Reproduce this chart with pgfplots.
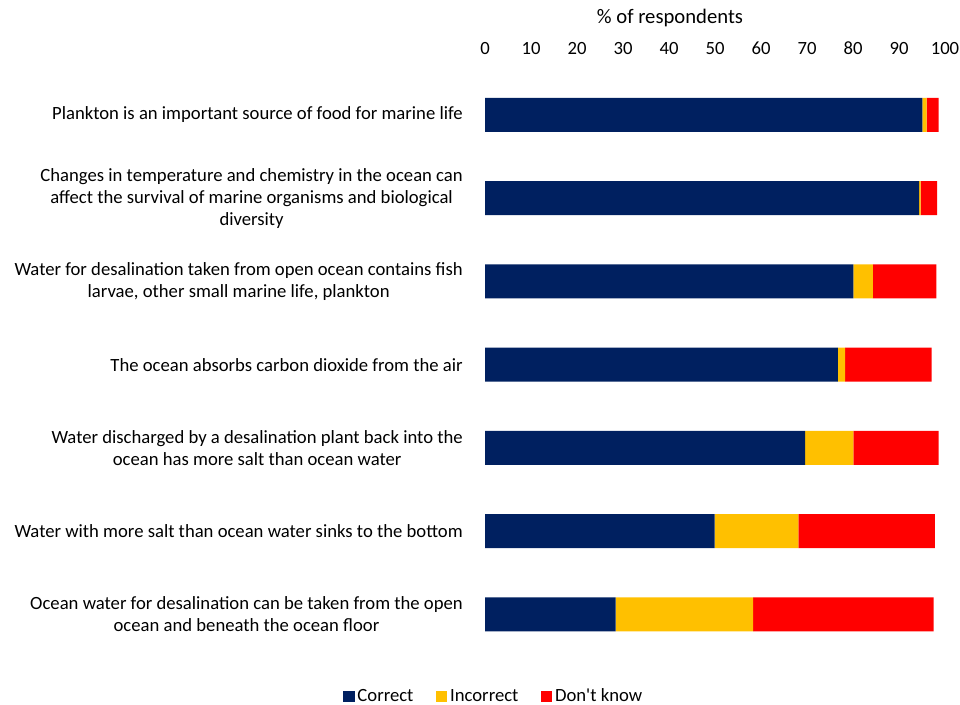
\documentclass[border=0pt]{standalone}
\usepackage{pgfplots}
\pgfplotsset{compat=1.18}
\usepackage{fontspec}
\setmainfont{Carlito}[Ligatures=TeXOff]
\definecolor{cnavy}{HTML}{002060}
\definecolor{cyel}{HTML}{FFC000}
\definecolor{cred}{HTML}{FF0000}
\begin{document}
\begin{tikzpicture}
\path[use as bounding box] (0pt,0pt) rectangle (720pt,528.75pt);
\begin{axis}[
  at={(363.75pt,36.75pt)}, anchor=south west,
  scale only axis, width=345pt, height=437pt,
  xbar stacked, bar width=25.5pt,
  xmin=0, xmax=100, xtick={0,10,...,100},
  ymin=-0.5, ymax=6.5, y dir=reverse,
  ytick={0,1,2,3,4,5,6},
  yticklabels={
    {Plankton is an important source of food for marine life},
    {Changes in temperature and chemistry in the ocean can\\affect the survival of marine organisms and biological\\diversity},
    {Water for desalination taken from open ocean contains fish\\larvae, other small marine life, plankton},
    {The ocean absorbs carbon dioxide from the air},
    {Water discharged by a desalination plant back into the\\ocean has more salt than ocean water},
    {Water with more salt than ocean water sinks to the bottom},
    {Ocean water for desalination can be taken from the open\\ocean and beneath the ocean floor}},
  axis line style={draw=none},
  major tick length=0pt,
  xticklabel pos=top,
  /pgf/number format/assume math mode=true,
  tick label style={font=\fontsize{14}{16.5}\selectfont, text=black},
  xticklabel style={anchor=south, inner sep=0pt, yshift=13.5pt},
  yticklabel style={align=center, anchor=east, inner sep=0pt, xshift=-16.5pt},
  legend style={at={(rel axis cs:0.02,-0.069)}, anchor=center, draw=none,
    font=\fontsize{14}{16}\selectfont, legend columns=3,
    /tikz/every even column/.append style={column sep=15pt}},
  legend image code/.code={\path[#1,draw=none] (0pt,-4.3pt) rectangle (8.5pt,4.2pt);},
]
\addplot[fill=cnavy, draw=none] coordinates {(95.1,0) (94.4,1) (80.1,2) (76.7,3) (69.6,4) (49.9,5) (28.4,6)};
\addplot[fill=cyel, draw=none] coordinates {(0.9,0) (0.3,1) (4.2,2) (1.6,3) (10.5,4) (18.2,5) (29.9,6)};
\addplot[fill=cred, draw=none] coordinates {(2.6,0) (3.6,1) (13.8,2) (18.8,3) (18.5,4) (29.7,5) (39.2,6)};
\legend{Correct, Incorrect, Don't know}
\end{axis}
\node[font=\fontsize{15.5}{18}\selectfont] at (502.5pt,515pt) {\% of respondents};
\end{tikzpicture}
\end{document}
